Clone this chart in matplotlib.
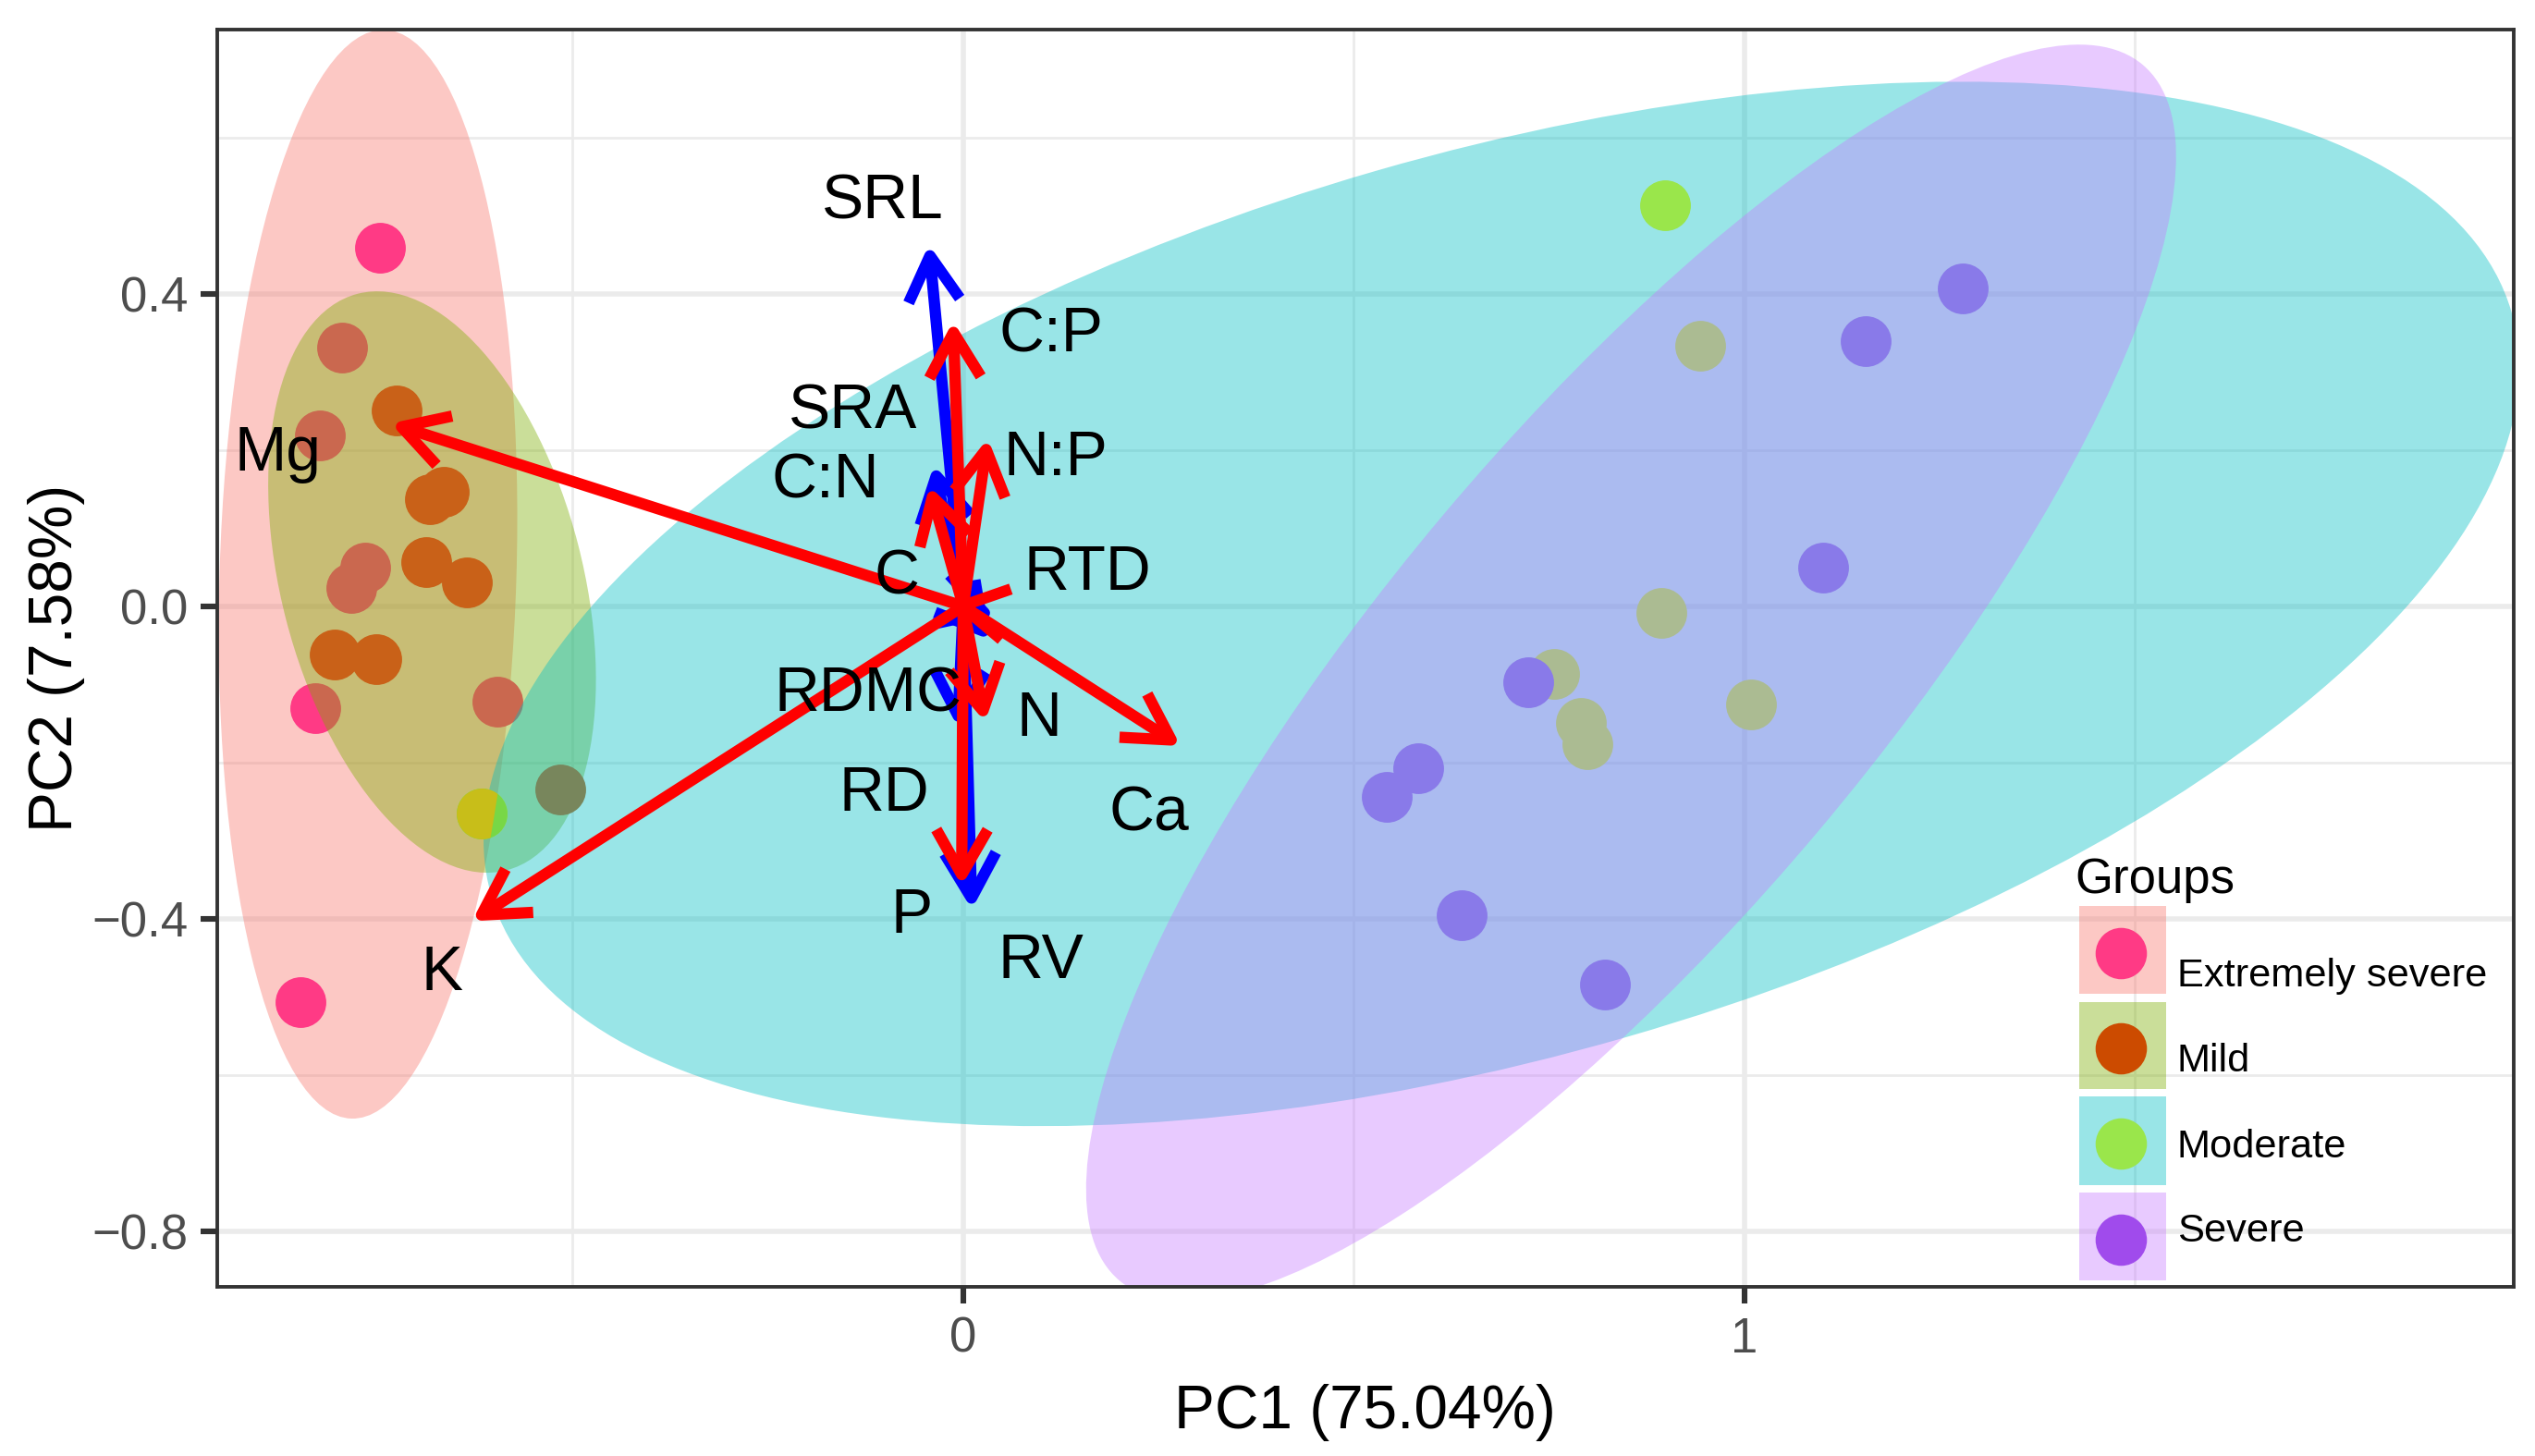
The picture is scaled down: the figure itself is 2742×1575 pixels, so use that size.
import matplotlib
matplotlib.use("Agg")
import matplotlib.pyplot as plt
from matplotlib.patches import Ellipse, FancyArrowPatch, Rectangle
from matplotlib.lines import Line2D
from matplotlib.ticker import FixedLocator

plt.rcParams['font.family'] = ['Liberation Sans', 'DejaVu Sans']

W, H, DPI = 2742, 1575, 200

groups = ['Extremely severe', 'Mild', 'Moderate', 'Severe']
point_colors = ['#FF3A85', '#CC4B00', '#9AE64B', '#A04BEC']
plot_point_colors = ['#FF3A85', '#C96118', '#9AE64B', '#607ADC']
fill_colors = ['#F8766D', '#7CAE00', '#00BFC4', '#C77CFF']

es_x = [-0.747, -0.830, -0.849, -0.824, -0.795, -0.766, -0.783, -0.596]
es_y = [0.459, -0.130, -0.507, 0.219, 0.331, 0.050, 0.023, -0.122]
mild_x = [-0.725, -0.683, -0.665, -0.687, -0.636, -0.805, -0.752, -0.516]
mild_y = [0.250, 0.137, 0.147, 0.056, 0.031, -0.062, -0.068, -0.234]
mod_x = [0.899, 0.944, 0.894, 0.756, 0.791, 0.799, 1.008, -0.617]
mod_y = [0.513, 0.333, -0.008, -0.087, -0.149, -0.176, -0.126, -0.265]
sev_x = [1.280, 1.155, 1.101, 0.723, 0.582, 0.542, 0.638, 0.822]
sev_y = [0.407, 0.339, 0.050, -0.097, -0.207, -0.244, -0.395, -0.484]
group_x = [es_x, mild_x, mod_x, sev_x]
group_y = [es_y, mild_y, mod_y, sev_y]

# ellipse: centre x, centre y, semi-major, semi-minor, angle (degrees)
ell_cx = [-0.762, -0.680, 0.689, 0.855]
ell_cy = [0.041, 0.031, 0.003, -0.085]
ell_a = [0.697, 0.381, 1.346, 1.017]
ell_b = [0.190, 0.193, 0.577, 0.314]
ell_ang = [88.25, 104.5, 16.1, 49.9]

blue_names = ['SRL', 'SRA', 'RTD', 'RDMC', 'RD', 'RV']
blue_dx = [-0.044, -0.0375, 0.041, 0.035, -0.007, 0.011]
blue_dy = [0.463, 0.181, -0.013, -0.043, -0.155, -0.388]
red_names = ['C:P', 'N:P', 'C:N', 'C', 'N', 'P', 'Ca', 'Mg', 'K']
red_dx = [-0.013, 0.0315, -0.0434, -0.016, 0.028, -0.002, 0.2785, -0.733, -0.629]
red_dy = [0.365, 0.215, 0.154, 0.003, -0.148, -0.358, -0.179, 0.234, -0.403]

label_names = ['SRL', 'C:P', 'SRA', 'N:P', 'C:N', 'C', 'RTD', 'RDMC', 'N', 'RD', 'Ca', 'P', 'RV', 'K', 'Mg']
label_x = [-0.1035, 0.112, -0.141, 0.118, -0.176, -0.085, 0.159, -0.122, 0.097, -0.101, 0.238, -0.066, 0.099, -0.667, -0.878]
label_y = [0.517, 0.3466, 0.249, 0.189, 0.160, 0.037, 0.042, -0.113, -0.144, -0.241, -0.266, -0.396, -0.454, -0.470, 0.195]

x_major = [0, 1]
x_labels = ['0', '1']
x_minor = [-0.5, 0.5, 1.5]
y_major = [-0.8, -0.4, 0.0, 0.4]
y_labels = ['\u22120.8', '\u22120.4', '0.0', '0.4']
y_minor = [-0.6, -0.2, 0.2, 0.6]

fig = plt.figure(figsize=(W / DPI, H / DPI), dpi=DPI)
L, R, T, B = 235, 2719, 32, 1392
ax = fig.add_axes([L / W, 1 - B / H, (R - L) / W, (B - T) / H])
ax.set_xlim(-0.955, 1.985)
ax.set_ylim(-0.871, 0.738)

ax.xaxis.set_major_locator(FixedLocator(x_major))
ax.yaxis.set_major_locator(FixedLocator(y_major))
ax.xaxis.set_minor_locator(FixedLocator(x_minor))
ax.yaxis.set_minor_locator(FixedLocator(y_minor))
ax.set_xticklabels(x_labels)
ax.set_yticklabels(y_labels)
ax.set_axisbelow(True)
ax.grid(True, which='major', color='#EBEBEB', lw=2.0, zorder=0)
ax.grid(True, which='minor', color='#EBEBEB', lw=1.0, zorder=0)
ax.tick_params(axis='both', which='major', length=6.5, width=2.2, color='#333333',
               labelcolor='#4D4D4D', labelsize=19, pad=5)
ax.tick_params(axis='both', which='minor', length=0)
for s in ax.spines.values():
    s.set_color('#333333')
    s.set_linewidth(1.4)
    s.set_zorder(20)

ax.set_xlabel('PC1 (75.04%)', fontsize=23.7, color='black')
ax.xaxis.set_label_coords((1476 - L) / (R - L), -(1528 - B) / (B - T))
ax.xaxis.label.set_va('center')
ax.set_ylabel('PC2 (7.58%)', fontsize=23.7, color='black')
ax.yaxis.set_label_coords((61 - L) / (R - L), 0.5)
ax.yaxis.label.set_va('center')

ellipse_z = [1, 3, 5, 7]
point_z = [2, 4, 6, 6.5]

patches = []
for cx, cy, a, b, ang, c, z in zip(ell_cx, ell_cy, ell_a, ell_b, ell_ang, fill_colors, ellipse_z):
    p = Ellipse((cx, cy), 2 * a, 2 * b, angle=ang, facecolor=c, edgecolor='none', alpha=0.4, zorder=z)
    ax.add_patch(p)
    patches.append(p)

for gx, gy, c, z in zip(group_x, group_y, plot_point_colors, point_z):
    ax.scatter(gx, gy, s=390, color=c, linewidths=0, zorder=z)

# the Moderate point sitting inside the Mild and Extremely severe ellipses is tinted there
tint_mild = ax.scatter(mod_x, mod_y, s=390, color='#78D746', linewidths=0, zorder=6.1)
tint_mild.set_clip_path(patches[1])
tint_es = ax.scatter(mod_x, mod_y, s=390, color='#C8BE19', linewidths=0, zorder=6.2)
tint_es.set_clip_path(patches[0])

arrow_style = '->,head_length=17.5,head_width=10'


def draw_arrows(dxs, dys, color, z):
    for dx, dy in zip(dxs, dys):
        ax.add_patch(FancyArrowPatch((0, 0), (dx, dy), arrowstyle=arrow_style, mutation_scale=1,
                                     shrinkA=0, shrinkB=0, color=color, lw=4.4, zorder=z,
                                     joinstyle='round', capstyle='butt'))


draw_arrows(blue_dx, blue_dy, '#0000FF', 8)
draw_arrows(red_dx, red_dy, '#FF0000', 9)

for name, x, y in zip(label_names, label_x, label_y):
    ax.text(x, y, name, fontsize=24.4, color='black', ha='center', va='center', zorder=10)


# legend keys, placed in figure pixels
def fx(px):
    return px / W


def fy(py):
    return 1 - py / H


key_top = [980, 1084, 1186, 1290]
key_bottom = [1075, 1178, 1282, 1385]
key_cy = [1031, 1134, 1237, 1341]
label_base = [1067, 1159, 1252, 1343]
for g, pc, fc, t, b, cy, base in zip(groups, point_colors, fill_colors, key_top, key_bottom, key_cy, label_base):
    fig.add_artist(Rectangle((fx(2249), fy(b)), (2343 - 2249) / W, (b - t) / H, transform=fig.transFigure,
                             facecolor=fc, edgecolor='none', alpha=0.4, zorder=8))
    fig.add_artist(Line2D([fx(2294)], [fy(cy)], transform=fig.transFigure, marker='o', color=pc,
                          markersize=20, markeredgewidth=0, linestyle='none', zorder=9))
    fig.text(fx(2355), fy(base), g, fontsize=15.6, color='black', ha='left', va='baseline', zorder=9)
fig.text(fx(2244), fy(966), 'Groups', fontsize=19, color='black', ha='left', va='baseline', zorder=9)

fig.savefig('out.png', dpi=DPI, facecolor='white')
